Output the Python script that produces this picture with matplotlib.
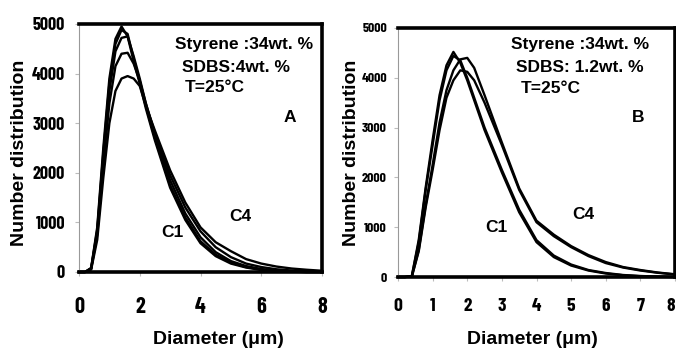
import matplotlib
matplotlib.use("Agg")
import matplotlib.pyplot as plt
from matplotlib import font_manager

# ---------------- data ----------------
diameter = [0, 0.2, 0.4, 0.6, 0.8, 1.0, 1.2, 1.4, 1.6, 1.8, 2.0, 2.2, 2.5,
            3.0, 3.5, 4.0, 4.5, 5.0, 5.5, 6.0, 6.5, 7.0, 7.5, 8.0]

# Panel A: SDBS 4 wt.%
a_c1 = [0, 0, 80, 900, 2500, 3900, 4700, 4950, 4750, 4250, 3800, 3300, 2650,
        1700, 1050, 580, 320, 170, 90, 40, 15, 5, 0, 0]
a_c2 = [0, 0, 80, 850, 2400, 3800, 4600, 4880, 4800, 4300, 3850, 3350, 2700,
        1750, 1100, 620, 350, 190, 100, 50, 20, 8, 0, 0]
a_c3 = [0, 0, 70, 800, 2300, 3650, 4450, 4720, 4750, 4350, 3900, 3400, 2750,
        1850, 1180, 700, 400, 220, 120, 60, 25, 10, 0, 0]
a_c4 = [0, 0, 60, 750, 2150, 3400, 4150, 4400, 4420, 4200, 3850, 3400, 2800,
        1950, 1300, 820, 500, 300, 170, 100, 55, 30, 15, 5]
a_c5 = [0, 0, 50, 650, 1900, 3000, 3650, 3900, 3950, 3900, 3750, 3350, 2850,
        2050, 1400, 900, 600, 420, 260, 170, 110, 70, 45, 25]

# Panel B: SDBS 1.2 wt.%
b_c1 = [0, 0, 20, 750, 1800, 2750, 3650, 4250, 4520, 4300, 3950, 3550, 2950,
        2100, 1300, 700, 400, 230, 130, 70, 35, 15, 5, 0]
b_c2 = [0, 0, 20, 700, 1750, 2650, 3550, 4150, 4440, 4350, 4000, 3600, 3000,
        2150, 1350, 740, 430, 250, 140, 80, 40, 20, 8, 0]
b_c3 = [0, 0, 10, 550, 1450, 2250, 3100, 3750, 4150, 4370, 4400, 4200, 3650,
        2700, 1780, 1130, 850, 620, 440, 300, 200, 140, 90, 55]
b_c4 = [0, 0, 10, 520, 1400, 2150, 2950, 3600, 3950, 4150, 4120, 3950, 3500,
        2650, 1750, 1100, 820, 600, 420, 280, 190, 130, 85, 50]

a_series = [a_c1, a_c2, a_c3, a_c4, a_c5]
b_series = [b_c1, b_c2, b_c3, b_c4]

yticks = [0, 1000, 2000, 3000, 4000, 5000]
a_xticks = [0, 2, 4, 6, 8]
b_xticks = [0, 1, 2, 3, 4, 5, 6, 7, 8]

xlabel = "Diameter (\u03bcm)"
ylabel = "Number distribution"
a_notes = ["Styrene :34wt. %", "SDBS:4wt. %", "T=25\u00b0C"]
b_notes = ["Styrene :34wt. %", "SDBS: 1.2wt. %", "T=25\u00b0C"]

# ---------------- style ----------------
names = {f.name for f in font_manager.fontManager.ttflist}
narrow = "DejaVu Sans"
for cand in ("Barlow Condensed", "Archivo Narrow", "Asap Condensed"):
    if cand in names:
        narrow = cand
        break
plt.rcParams["font.family"] = ["Liberation Sans", "DejaVu Sans"]

W, H = 676, 350
fig = plt.figure(figsize=(W / 100, H / 100), dpi=100)


def px_axes(l, t, r, b):
    return fig.add_axes([l / W, 1 - b / H, (r - l) / W, (b - t) / H])


def style(ax, xticks, xt_size, yt_size, xpad, ypad):
    ax.set_xlim(0, 8)
    ax.set_ylim(0, 5000)
    ax.set_xticks(xticks)
    ax.set_yticks(yticks)
    ax.set_xticklabels([str(t) for t in xticks], fontfamily=narrow,
                       fontweight="bold", fontsize=xt_size, fontstretch="condensed")
    ax.set_yticklabels([str(t) for t in yticks], fontfamily=narrow,
                       fontweight="bold", fontsize=yt_size, fontstretch="condensed")
    ax.tick_params(axis="both", direction="out", length=3, width=0.8,
                   color="#bbbbbb")
    ax.tick_params(axis="x", pad=xpad)
    ax.tick_params(axis="y", pad=ypad)
    ax.spines["left"].set_color("#999999")
    ax.spines["left"].set_linewidth(0.8)
    for s in ("top", "right", "bottom"):
        ax.spines[s].set_color("black")
        ax.spines[s].set_linewidth(2.6)
    ax.set_facecolor("white")


# ---------------- panel A ----------------
axA = px_axes(79, 24, 322, 272)
for ys in a_series:
    axA.plot(diameter, ys, color="black", lw=1.7, solid_joinstyle="round",
             clip_on=False)
style(axA, a_xticks, 16, 13, 15, 7)
axA.text(3.16, 4577, a_notes[0], fontsize=12.5, fontweight="bold", va="center")
axA.text(3.39, 4113, a_notes[1], fontsize=12.5, fontweight="bold", va="center")
axA.text(3.49, 3710, a_notes[2], fontsize=12.5, fontweight="bold", va="center")
axA.text(6.95, 3105, "A", fontsize=12.5, fontweight="bold", ha="center", va="center")
axA.text(5.3, 1129, "C4", fontsize=12.5, fontweight="bold", ha="center", va="center")
axA.text(3.09, 806, "C1", fontsize=12.5, fontweight="bold", ha="center", va="center")

# ---------------- panel B ----------------
axB = px_axes(398, 28, 675, 277)
for ys in b_series:
    axB.plot(diameter, ys, color="black", lw=1.7, solid_joinstyle="round",
             clip_on=False)
style(axB, b_xticks, 14, 10, 12, 5)
axB.text(3.27, 4659, b_notes[0], fontsize=12.5, fontweight="bold", va="center")
axB.text(3.41, 4197, b_notes[1], fontsize=12.5, fontweight="bold", va="center")
axB.text(3.55, 3795, b_notes[2], fontsize=12.5, fontweight="bold", va="center")
axB.text(6.94, 3193, "B", fontsize=12.5, fontweight="bold", ha="center", va="center")
axB.text(5.35, 1245, "C4", fontsize=12.5, fontweight="bold", ha="center", va="center")
axB.text(2.83, 984, "C1", fontsize=12.5, fontweight="bold", ha="center", va="center")
# last x tick label is cut by the figure edge in the reference; keep it inside
axB.get_xticklabels()[-1].set_horizontalalignment("right")

# axis labels (placed in figure pixels)
fig.text(218 / W, 1 - 340 / H, xlabel, fontsize=14, fontweight="bold",
         ha="center", va="center")
fig.text(532 / W, 1 - 340 / H, xlabel, fontsize=14, fontweight="bold",
         ha="center", va="center")
fig.text(20 / W, 1 - 153 / H, ylabel, fontsize=14, fontweight="bold",
         ha="center", va="center", rotation=90)
fig.text(351 / W, 1 - 153 / H, ylabel, fontsize=14, fontweight="bold",
         ha="center", va="center", rotation=90)

fig.savefig("out.png", dpi=100, facecolor="white")
